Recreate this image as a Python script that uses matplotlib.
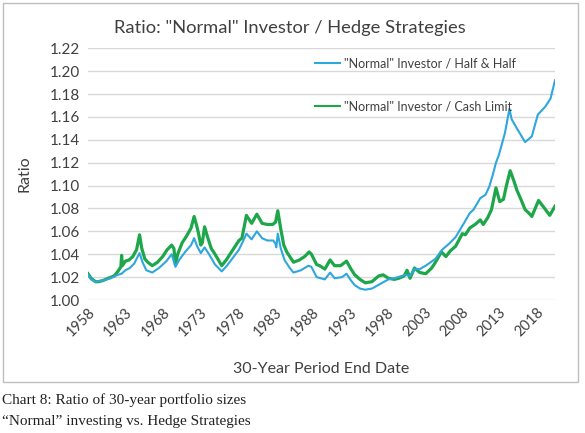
import matplotlib
matplotlib.use('Agg')
import matplotlib.pyplot as plt
from matplotlib.ticker import FormatStrFormatter

# ratio series (year, value)
half_years = [1958.0, 1958.4, 1959.0, 1960.0, 1961.0, 1962.0, 1962.5, 1963.0, 1963.6, 1964.2,
              1964.9, 1965.3, 1965.8, 1966.6, 1967.5, 1968.5, 1969.2, 1969.7, 1970.2, 1971.0,
              1971.8, 1972.2, 1972.6, 1973.1, 1973.6, 1974.2, 1975.0, 1975.9, 1976.6, 1977.4,
              1978.2, 1978.8, 1979.2, 1979.9, 1980.6, 1981.3, 1982.0, 1982.8, 1983.1, 1983.2,
              1983.4, 1983.8, 1984.3, 1985.0, 1985.5, 1986.5, 1987.5, 1987.9, 1988.6, 1989.7,
              1990.4, 1991.0, 1992.0, 1992.6, 1993.2, 1993.7, 1994.4, 1995.1, 1996.0, 1997.1,
              1998.2, 1999.0, 2000.0, 2000.5, 2001.1, 2001.7, 2002.4, 2003.2, 2004.5, 2005.4,
              2006.3, 2007.2, 2008.3, 2009.1, 2009.6, 2010.5, 2011.2, 2011.7, 2012.2, 2012.6,
              2013.0, 2013.8, 2014.4, 2014.7, 2015.4, 2016.5, 2017.4, 2018.2, 2019.2, 2019.9,
              2020.5]
half_ratio = [1.022, 1.018, 1.016, 1.017, 1.019, 1.022, 1.023, 1.026, 1.028, 1.032,
              1.041, 1.033, 1.026, 1.024, 1.028, 1.034, 1.040, 1.029, 1.035, 1.042,
              1.048, 1.054, 1.047, 1.041, 1.046, 1.040, 1.031, 1.025, 1.030, 1.037,
              1.044, 1.052, 1.058, 1.053, 1.060, 1.054, 1.052, 1.052, 1.049, 1.046,
              1.058, 1.045, 1.035, 1.028, 1.024, 1.026, 1.030, 1.029, 1.020, 1.018,
              1.024, 1.019, 1.020, 1.023, 1.017, 1.013, 1.010, 1.009, 1.010, 1.014,
              1.018, 1.019, 1.021, 1.022, 1.021, 1.027, 1.027, 1.030, 1.036, 1.044,
              1.049, 1.055, 1.067, 1.076, 1.079, 1.089, 1.092, 1.099, 1.110, 1.120,
              1.127, 1.146, 1.167, 1.158, 1.150, 1.138, 1.143, 1.162, 1.169, 1.176,
              1.192]

cash_years = [1958.0, 1958.4, 1959.0, 1959.4, 1960.0, 1960.7, 1961.5, 1962.0, 1962.4, 1962.5,
              1962.6, 1963.0, 1963.5, 1964.0, 1964.5, 1964.9, 1965.2, 1965.6, 1966.0, 1966.6,
              1967.3, 1968.0, 1968.6, 1969.2, 1969.5, 1969.7, 1970.0, 1970.6, 1971.2, 1971.8,
              1972.2, 1972.5, 1972.8, 1973.1, 1973.3, 1973.6, 1974.0, 1974.5, 1975.0, 1975.9,
              1976.5, 1977.2, 1977.7, 1978.2, 1978.6, 1979.2, 1979.9, 1980.6, 1981.3, 1982.0,
              1982.7, 1983.1, 1983.4, 1983.8, 1984.2, 1984.6, 1985.5, 1986.3, 1987.0, 1987.6,
              1987.9, 1988.6, 1989.0, 1989.7, 1990.4, 1991.0, 1991.8, 1992.6, 1993.2, 1993.7,
              1994.4, 1995.1, 1996.0, 1996.9, 1997.5, 1998.2, 1999.0, 1999.6, 2000.3, 2000.7,
              2001.1, 2001.7, 2002.4, 2003.2, 2004.0, 2004.5, 2005.3, 2005.9, 2006.5, 2007.2,
              2008.1, 2008.5, 2009.1, 2009.8, 2010.5, 2010.9, 2011.5, 2012.0, 2012.6, 2013.1,
              2013.6, 2014.0, 2014.5, 2015.0, 2015.4, 2016.0, 2016.5, 2017.0, 2017.4, 2018.3,
              2019.0, 2019.8, 2020.5]
cash_ratio = [1.023, 1.019, 1.016, 1.016, 1.017, 1.019, 1.021, 1.025, 1.029, 1.039,
              1.030, 1.034, 1.035, 1.038, 1.044, 1.057, 1.045, 1.036, 1.033, 1.030,
              1.033, 1.038, 1.044, 1.048, 1.045, 1.031, 1.040, 1.050, 1.056, 1.063,
              1.073, 1.066, 1.058, 1.048, 1.050, 1.064, 1.055, 1.045, 1.040, 1.030,
              1.035, 1.042, 1.047, 1.052, 1.054, 1.074, 1.067, 1.075, 1.067, 1.066,
              1.066, 1.068, 1.078, 1.062, 1.048, 1.042, 1.033, 1.035, 1.038, 1.042,
              1.040, 1.031, 1.030, 1.027, 1.035, 1.030, 1.030, 1.034, 1.027, 1.022,
              1.018, 1.015, 1.016, 1.021, 1.022, 1.019, 1.018, 1.019, 1.021, 1.026,
              1.019, 1.028, 1.024, 1.023, 1.028, 1.033, 1.042, 1.038, 1.043, 1.047,
              1.058, 1.057, 1.063, 1.066, 1.070, 1.066, 1.072, 1.079, 1.098, 1.086,
              1.088, 1.100, 1.113, 1.104, 1.096, 1.087, 1.079, 1.076, 1.073, 1.087,
              1.081, 1.074, 1.082]

year_ticks = list(range(1958, 2019, 5))
ratio_ticks = [1.00, 1.02, 1.04, 1.06, 1.08, 1.10, 1.12, 1.14, 1.16, 1.18, 1.20, 1.22]

BLUE = '#2ea6de'
GREEN = '#1ea64a'
SANS = ['Lato', 'DejaVu Sans']
SERIF = ['Liberation Serif', 'DejaVu Serif']
GREY = '#404040'

fig = plt.figure(figsize=(5.85, 4.33), dpi=100)
ax = fig.add_axes([88 / 585, 1 - 300 / 433, 467 / 585, 251.7 / 433])

ax.plot(half_years, half_ratio, color=BLUE, lw=1.5, label='"Normal" Investor / Half & Half', zorder=3)
ax.plot(cash_years, cash_ratio, color=GREEN, lw=2.3, label='"Normal" Investor / Cash Limit', zorder=2)

ax.set_xlim(1958.0, 2020.5)
ax.set_ylim(1.00, 1.22)
ax.set_yticks(ratio_ticks)
ax.yaxis.set_major_formatter(FormatStrFormatter('%.2f'))
ax.set_xticks(year_ticks)
ax.set_xticklabels([str(y) for y in year_ticks], rotation=45, ha='right',
                   rotation_mode='anchor', family=SANS, fontsize=10.5, color=GREY)
for lab in ax.get_yticklabels():
    lab.set_family(SANS)
    lab.set_fontsize(11)
    lab.set_color(GREY)
ax.tick_params(length=0, pad=6)
ax.tick_params(axis='x', pad=4)
ax.grid(axis='y', color='#d9d9d9', lw=1.0)
ax.set_axisbelow(True)
for s in ax.spines.values():
    s.set_visible(False)

ax.set_ylabel('Ratio', family=SANS, fontsize=11.5, color=GREY, labelpad=13)
ax.set_xlabel('30-Year Period End Date', family=SANS, fontsize=11.5, color=GREY, labelpad=16)

leg = ax.legend(loc='upper left', bbox_to_anchor=(0.486, 0.965), frameon=False,
                prop={'family': SANS, 'size': 9}, handlelength=2.0, handletextpad=0.3,
                labelspacing=2.5, borderpad=0, borderaxespad=0, labelcolor=GREY)
for h in leg.get_lines():
    h.set_linewidth(1.5)

fig.text(290 / 585, 1 - 28 / 433, 'Ratio: "Normal" Investor / Hedge Strategies',
         ha='center', va='center', family=SANS, fontsize=13.2, color=GREY)

# chart frame
fig.add_artist(plt.Rectangle((3 / 585, 1 - 382 / 433), 575 / 585, 379 / 433,
                             transform=fig.transFigure, fill=False, ec='#bfbfbf', lw=1))

fig.text(2 / 585, 1 - 400 / 433, 'Chart 8: Ratio of 30-year portfolio sizes',
         ha='left', va='center', family=SERIF, fontsize=11, color='#222222')
fig.text(2 / 585, 1 - 422 / 433, '\u201cNormal\u201d investing vs. Hedge Strategies',
         ha='left', va='center', family=SERIF, fontsize=11, color='#222222')

fig.savefig('out.png', dpi=100)
